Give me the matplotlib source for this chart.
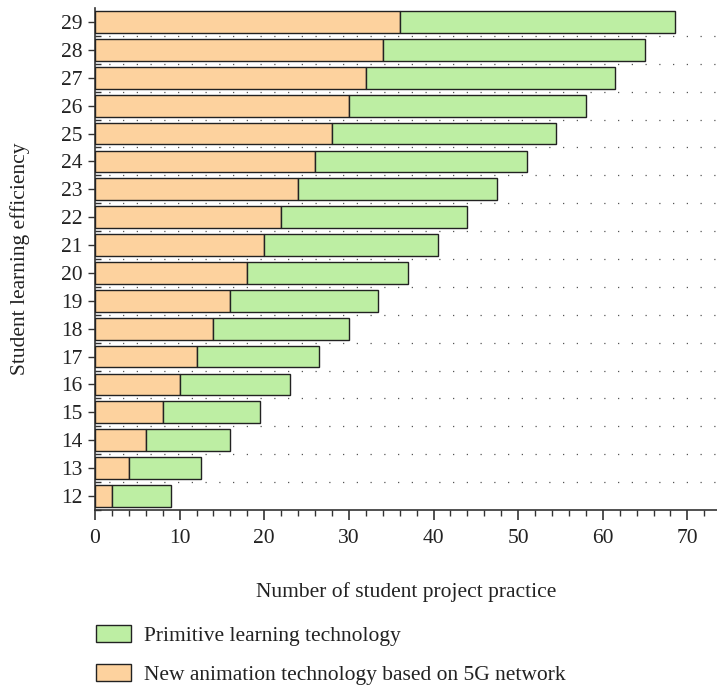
import matplotlib.pyplot as plt
import numpy as np
from matplotlib.ticker import MultipleLocator
from matplotlib.patches import Patch

# Data
efficiency = [12, 13, 14, 15, 16, 17, 18, 19, 20, 21, 22, 23, 24, 25, 26, 27, 28, 29]
new_animation = [2, 4, 6, 8, 10, 12, 14, 16, 18, 20, 22, 24, 26, 28, 30, 32, 34, 36]
primitive = [7, 8.5, 10, 11.5, 13, 14.5, 16, 17.5, 19, 20.5, 22, 23.5, 25, 26.5, 28, 29.5, 31, 32.5]

orange = "#FDD29E"
green = "#BDEEA3"
edge = "#222222"

plt.rcParams['font.family'] = ['Liberation Serif', 'DejaVu Serif']
fs = 15.5

fig = plt.figure(figsize=(7.17, 6.86), dpi=100)
ax = fig.add_axes([0.1325, 0.2566, 0.8675, 0.7317])

y = np.array(efficiency)
ax.barh(y, new_animation, height=0.78, color=orange, edgecolor=edge, linewidth=1.0, zorder=3)
ax.barh(y, primitive, left=new_animation, height=0.78, color=green, edgecolor=edge,
        linewidth=1.0, zorder=3)

# Dotted lines between the bars
for yy in np.arange(12.5, 29.5, 1.0):
    ax.axhline(yy, color="#555555", linestyle=(0, (1, 10)), linewidth=0.9, zorder=1)

ax.set_xlim(0, 73.5)
ax.set_ylim(11.5, 29.5)
ax.set_yticks(efficiency)
ax.xaxis.set_major_locator(MultipleLocator(10))
ax.xaxis.set_minor_locator(MultipleLocator(2))
ax.set_yticks(np.arange(11.5, 29.0, 1.0), minor=True)

for side in ["top", "right"]:
    ax.spines[side].set_visible(False)
for side in ["left", "bottom"]:
    ax.spines[side].set_color("#333333")
    ax.spines[side].set_linewidth(1.2)

ax.tick_params(axis="x", which="major", direction="out", length=7, width=1.2,
               colors="#333333", labelsize=fs, labelcolor="#222222", pad=7)
ax.tick_params(axis="x", which="minor", direction="out", length=4, width=1.0, colors="#333333")
ax.tick_params(axis="y", which="major", direction="out", length=5, width=1.0,
               colors="#333333", labelsize=fs, labelcolor="#222222", pad=4)
ax.tick_params(axis="y", which="minor", direction="in", length=4, width=1.0, colors="#333333")

ax.set_ylabel("Student learning efficiency", fontsize=fs, color="#222222", labelpad=22)
ax.set_xlabel("Number of student project practice", fontsize=fs, color="#222222", labelpad=24)

handles = [Patch(facecolor=green, edgecolor=edge, linewidth=1.0, label="Primitive learning technology"),
           Patch(facecolor=orange, edgecolor=edge, linewidth=1.0,
                 label="New animation technology based on 5G network")]
fig.legend(handles=handles, loc="lower left", bbox_to_anchor=(0.1325, 0.0), frameon=False,
           fontsize=fs, handlelength=1.63, handleheight=0.8, labelspacing=0.85,
           handletextpad=0.6, borderpad=0.05, borderaxespad=0, labelcolor="#222222")

fig.savefig("out.png", dpi=100)
